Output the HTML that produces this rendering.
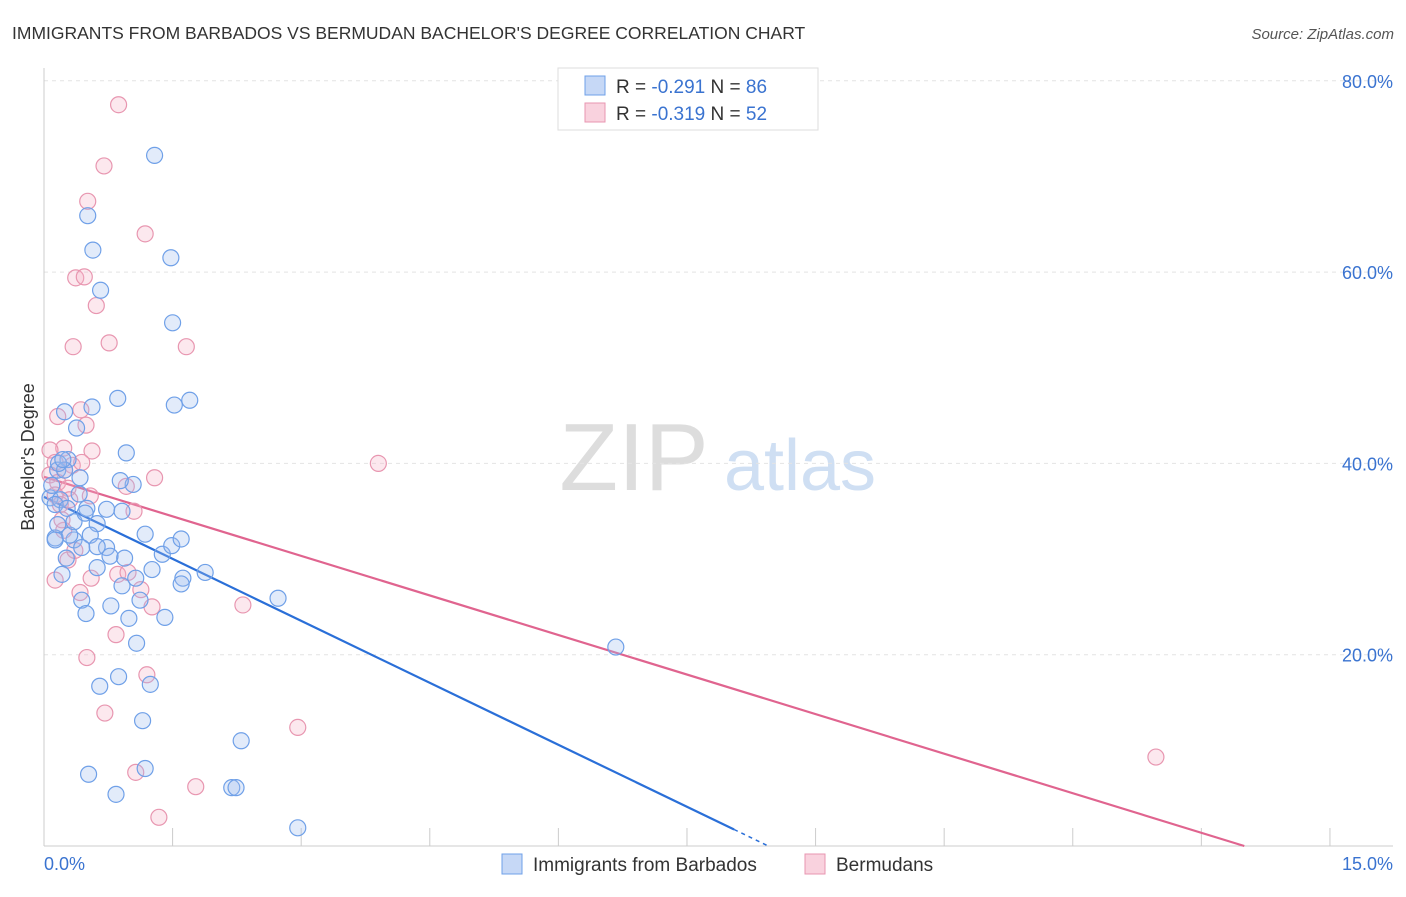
<!DOCTYPE html>
<html><head><meta charset="utf-8"><style>
body{margin:0;background:#fff;font-family:"Liberation Sans",Arial,sans-serif;}
svg text{font-family:"Liberation Sans",Arial,sans-serif;}
</style></head><body>
<svg id="chart" width="1406" height="892" xmlns="http://www.w3.org/2000/svg">
<text x="12" y="39" font-size="17.5" fill="#333">IMMIGRANTS FROM BARBADOS VS BERMUDAN BACHELOR'S DEGREE CORRELATION CHART</text>
<text x="1394" y="39" font-size="15" fill="#555" font-style="italic" text-anchor="end">Source: ZipAtlas.com</text>
<text x="634" y="490" font-size="96" fill="#ddd" font-family="Liberation Serif" text-anchor="middle">ZIP</text>
<text x="800" y="490" font-size="72" fill="#cfdff3" text-anchor="middle">atlas</text>
<g id="grid"></g><g id="axes"></g><g id="lines"></g><g id="pts"></g>
<text x="34" y="457" font-size="18" fill="#333" text-anchor="middle" transform="rotate(-90 34 457)">Bachelor's Degree</text>
<g>
<rect x="558" y="68" width="260" height="62" fill="#fff" stroke="#ddd"/>
<rect x="585" y="76" width="20" height="19" fill="rgba(160,190,240,0.6)" stroke="#6fa0e8"/>
<rect x="585" y="103" width="20" height="19" fill="rgba(245,180,200,0.6)" stroke="#e896b0"/>
<text x="616" y="93" font-size="19" fill="#333">R = <tspan fill="#3a73d0">-0.291</tspan>   N = <tspan fill="#3a73d0">86</tspan></text>
<text x="616" y="120" font-size="19" fill="#333">R = <tspan fill="#3a73d0">-0.319</tspan>   N = <tspan fill="#3a73d0">52</tspan></text>
</g>
<g>
<rect x="502" y="854" width="20" height="20" fill="rgba(160,190,240,0.6)" stroke="#6fa0e8"/>
<text x="533" y="871" font-size="19" fill="#333">Immigrants from Barbados</text>
<rect x="805" y="854" width="20" height="20" fill="rgba(245,180,200,0.6)" stroke="#e896b0"/>
<text x="836" y="871" font-size="19" fill="#333">Bermudans</text>
</g>
</svg>
<script>
const yTicks=[20,40,60,80];
const yTickLabels=["20.0%","40.0%","60.0%","80.0%"];
const xTicks=[0,1.5,3,4.5,6,7.5,9,10.5,12,13.5,15];
const xEndLabels=["0.0%","15.0%"];
const blueX=[1.29,.51,.57,1.48,.66,1.50,.86,.56,1.52,1.70,.24,.38,.96,.28,.16,.42,1.04,.07,.19,.50,.73,.91,.62,1.18,.13,.35,.54,.73,.94,1.38,1.49,1.60,.26,.44,.62,1.26,1.62,1.88,.21,1.07,.91,1.60,.44,1.12,.78,.49,.99,1.41,2.73,1.08,6.67,.65,.87,1.24,1.15,2.30,1.18,.52,.84,2.19,2.24,2.96,.13,.24,.09,.13,.30,.35,.16,.41,.48,.62,.77,.27,.89,.17,.22];
const blueY=[72.2,65.9,62.3,61.5,58.1,54.7,46.8,45.9,46.1,46.6,45.4,43.7,41.1,40.4,39.3,38.5,37.8,36.4,36.2,35.3,35.2,35.0,33.7,32.6,32.2,32.0,32.5,31.2,30.1,30.5,31.4,32.1,30.1,31.2,29.1,28.9,28.0,28.6,28.4,28.0,27.2,27.4,25.7,25.7,25.1,24.3,23.8,23.9,25.9,21.2,20.8,16.7,17.7,16.9,13.1,11.0,8.1,7.5,5.4,6.1,6.1,1.9,35.7,39.3,37.7,32.0,32.5,33.9,33.6,36.8,34.8,31.3,30.3,35.3,38.2,40.0,40.4];
const pinkX=[.87,.70,.51,1.18,.37,.47,.61,.34,.76,1.66,3.90,.16,.43,.49,.23,.56,.07,.13,.33,.44,.24,.07,.16,.28,.54,.96,1.29,1.05,.30,.13,.23,.28,.55,.13,.42,.86,.98,1.13,1.26,2.32,.84,.50,1.20,.71,2.96,1.07,1.77,1.34,12.97,.19,.36,.21];
const pinkY=[77.5,71.1,67.4,64.0,59.4,59.5,56.5,52.2,52.6,52.2,40.0,44.9,45.6,44.0,41.6,41.3,41.4,40.1,39.8,40.1,39.3,38.8,38.0,37.4,36.6,37.6,38.5,35.0,36.2,36.7,33.0,29.9,28.0,27.8,26.5,28.4,28.6,26.8,25.0,25.2,22.1,19.7,17.9,13.9,12.4,7.7,6.2,3.0,9.3,35.7,30.9,34.1];
const blueFit=[36.5,-4.32]; const pinkFit=[38.6,-2.757];
const sx=v=>44+v*85.73, sy=v=>846-v*9.565;
const NS="http://www.w3.org/2000/svg";
function mk(p,t,a){const e=document.createElementNS(NS,t);for(const k in a)e.setAttribute(k,a[k]);document.getElementById(p).appendChild(e);return e;}
yTicks.forEach((t,i)=>{
 const l=mk('grid','line',{x1:44,x2:1393,y1:sy(t),y2:sy(t),stroke:'#e4e4e4','stroke-dasharray':'4,4'});
 
 
 const tx=mk('axes','text',{x:1393,y:sy(t)+7,'font-size':18,fill:'#3a73d0','text-anchor':'end'});tx.textContent=yTickLabels[i];
 
 
});
const ax=mk('axes','line',{x1:44,x2:1393,y1:846,y2:846,stroke:'#ccc'});


const ay=mk('axes','line',{x1:44,x2:44,y1:68,y2:846,stroke:'#ccc'});


xTicks.forEach(t=>{const l=mk('axes','line',{x1:sx(t),x2:sx(t),y1:828,y2:846,stroke:'#ccc'});
 
 });
const t0=mk('axes','text',{x:44,y:870,'font-size':18,fill:'#3a73d0'});t0.textContent=xEndLabels[0];


const t1=mk('axes','text',{x:1393,y:870,'font-size':18,fill:'#3a73d0','text-anchor':'end'});t1.textContent=xEndLabels[1];


function pts(X,Y,fill,stroke,name){X.forEach((x,i)=>{const c=mk('pts','circle',{cx:sx(x),cy:sy(Y[i]),r:8,fill:fill,stroke:stroke,'stroke-width':1.2});
 
 });}
pts(pinkX,pinkY,'rgba(245,180,200,0.3)','#e896b0','point-bermudans');
pts(blueX,blueY,'rgba(160,190,240,0.3)','#6fa0e8','point-barbados');
const bEnd=-blueFit[0]/blueFit[1];
const bl=mk('lines','line',{x1:sx(0),y1:sy(blueFit[0]),x2:sx(8.05),y2:sy(blueFit[0]+blueFit[1]*8.05),stroke:'#2a6fd8','stroke-width':2.2});


const bd=mk('lines','line',{x1:sx(8.05),y1:sy(blueFit[0]+blueFit[1]*8.05),x2:sx(bEnd),y2:sy(0),stroke:'#2a6fd8','stroke-width':1.5,'stroke-dasharray':'4,4'});


const pEnd=-pinkFit[0]/pinkFit[1];
const pl=mk('lines','line',{x1:sx(0),y1:sy(pinkFit[0]),x2:sx(pEnd),y2:sy(0),stroke:'#e0648f','stroke-width':2.2});


</script>
</body></html>
